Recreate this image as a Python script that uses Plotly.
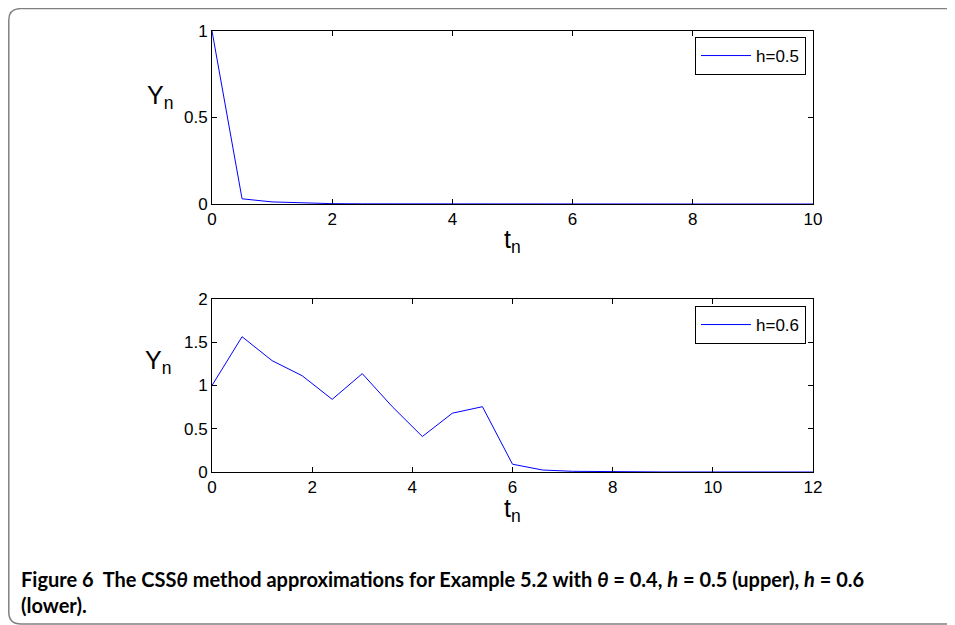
import plotly.graph_objects as go

# ---- data ----
t_upper = [0.0, 0.5, 1.0, 1.5, 2.0, 2.5, 3.0, 3.5, 4.0, 4.5, 5.0, 5.5, 6.0, 6.5, 7.0, 7.5, 8.0, 8.5, 9.0, 9.5, 10.0]
y_upper = [1.0, 0.030, 0.012, 0.005, 0.002, 0.001, 0.0005, 0.0002, 0.0001, 0.0, 0.0, 0.0, 0.0, 0.0, 0.0, 0.0, 0.0, 0.0, 0.0, 0.0, 0.0]
t_lower = [0.0, 0.6, 1.2, 1.8, 2.4, 3.0, 3.6, 4.2, 4.8, 5.4, 6.0, 6.6, 7.2, 7.8, 8.4, 9.0, 9.6, 10.2, 10.8, 11.4, 12.0]
y_lower = [1.0, 1.564, 1.287, 1.113, 0.84, 1.137, 0.755, 0.41, 0.68, 0.755, 0.09, 0.023, 0.008, 0.003, 0.001, 0.0005, 0.0002, 0.0001, 0.0, 0.0, 0.0]
label_upper = "h=0.5"
label_lower = "h=0.6"
xticks_upper = [0, 2, 4, 6, 8, 10]
yticks_upper = [0, 0.5, 1]
xticks_lower = [0, 2, 4, 6, 8, 10, 12]
yticks_lower = [0, 0.5, 1, 1.5, 2]
caption = ("Figure 6  The CSS<i>θ</i> method approximations for Example 5.2 with <i>θ</i> = 0.4, "
           "<i>h</i> = 0.5 (upper), <i>h</i> = 0.6<br>(lower).")

W, H = 955, 625
OFF = 8  # page offset of the figure inside the browser
FONT = "Liberation Sans"
BLUE = "#0000ff"

def px_x(x):
    return (x - OFF) / W

def px_y(y):
    return 1 - (y - OFF) / H

fig = go.Figure()
fig.add_trace(go.Scatter(x=t_upper, y=y_upper, mode="lines", name=label_upper,
                         line=dict(color=BLUE, width=1), xaxis="x", yaxis="y", legend="legend"))
fig.add_trace(go.Scatter(x=t_lower, y=y_lower, mode="lines", name=label_lower,
                         line=dict(color=BLUE, width=1), xaxis="x2", yaxis="y2", legend="legend2"))

axis_common = dict(showgrid=False, zeroline=False, showline=True, linecolor="black", linewidth=1,
                   mirror="ticks", ticks="inside", ticklen=5, tickcolor="black", tickwidth=1,
                   automargin=False,
                   tickfont=dict(family=FONT, size=17, color="black"))

fig.update_layout(
    template="none",
    width=W, height=H,
    autosize=False,
    margin=dict(l=0, r=0, t=0, b=0, pad=0),
    paper_bgcolor="white", plot_bgcolor="white",
    showlegend=True,
    font=dict(family=FONT, color="black"),
    xaxis=dict(domain=[px_x(212), px_x(813)], range=[0, 10], tickvals=xticks_upper, anchor="y", **axis_common),
    yaxis=dict(domain=[px_y(204), px_y(31)], range=[0, 1], tickvals=yticks_upper, anchor="x", **axis_common),
    xaxis2=dict(domain=[px_x(212), px_x(813)], range=[0, 12], tickvals=xticks_lower, anchor="y2", **axis_common),
    yaxis2=dict(domain=[px_y(472), px_y(299)], range=[0, 2], tickvals=yticks_lower, anchor="x2", **axis_common),
    legend=dict(x=px_x(806), y=px_y(37), xanchor="right", yanchor="top", bgcolor="white",
                bordercolor="black", borderwidth=1, font=dict(family=FONT, size=17, color="black"),
                itemwidth=50),
    legend2=dict(x=px_x(806), y=px_y(306), xanchor="right", yanchor="top", bgcolor="white",
                 bordercolor="black", borderwidth=1, font=dict(family=FONT, size=17, color="black"),
                 itemwidth=50),
)

def label(text, x, y):
    fig.add_annotation(text=text, x=px_x(x), y=px_y(y), xref="paper", yref="paper",
                       showarrow=False, xanchor="center", yanchor="middle",
                       font=dict(family=FONT, size=25, color="black"))

label("Y<sub>n</sub>", 160, 97)
label("t<sub>n</sub>", 512, 241)
label("Y<sub>n</sub>", 158, 362)
label("t<sub>n</sub>", 512, 510)

fig.add_annotation(text=caption, x=px_x(19), y=px_y(565), xref="paper", yref="paper",
                   showarrow=False, xanchor="left", yanchor="top", align="left",
                   font=dict(family="Lato", size=20, color="black", weight="bold"))

# rounded frame
fig.add_shape(type="path", xref="paper", yref="paper",
              path=f"M {px_x(970)},{px_y(8.6)} L {px_x(21)},{px_y(8.6)} Q {px_x(8.8)},{px_y(8.6)} {px_x(8.8)},{px_y(20)} "
                   f"L {px_x(8.8)},{px_y(612)} Q {px_x(8.8)},{px_y(624)} {px_x(21)},{px_y(624)} L {px_x(970)},{px_y(624)}",
              line=dict(color="#808080", width=1.5))

fig.write_html("out.html")
